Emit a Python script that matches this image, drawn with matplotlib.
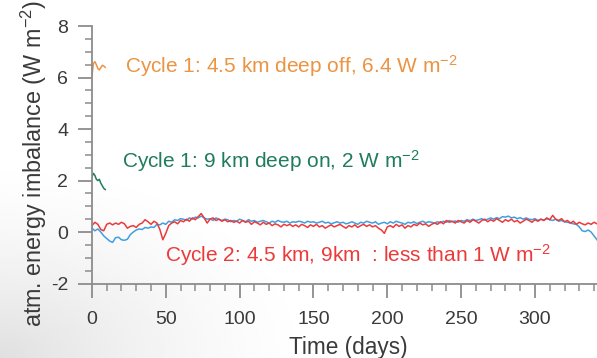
import matplotlib
matplotlib.use("Agg")
import matplotlib.pyplot as plt
import numpy as np
from matplotlib.ticker import MultipleLocator

plt.rcParams["font.family"] = ["Liberation Sans", "DejaVu Sans"]
plt.rcParams["mathtext.default"] = "regular"
plt.rcParams["axes.unicode_minus"] = False

COLORS = {
    "blue": "#3f9fe2",
    "red": "#ec3a3a",
    "orange": "#eb9443",
    "green": "#1f7d5c",
    "axis": "#8c8c8c",
    "text": "#3a3a3a",
}

# cycle 1 runs, first few days only
days_c1 = [0, 1, 2, 3, 4, 5, 6, 7, 8, 9]
deep_off_45km = [6.05, 6.55, 6.62, 6.5, 6.35, 6.3, 6.38, 6.48, 6.45, 6.4]
deep_on_9km = [2.15, 2.28, 2.2, 2.05, 2.0, 2.05, 1.9, 1.8, 1.7, 1.65]

# cycle 2 runs, every 2 days
days_c2 = np.arange(0, 344, 2)
cycle2_blue = [
    0.15, 0.05, 0.12, 0.0, -0.15, -0.25, -0.35, -0.4, -0.22, -0.2,
    -0.3, -0.32, -0.28, -0.1, 0.0, 0.08, 0.12, 0.1, 0.18, 0.15,
    0.2, 0.18, 0.3, 0.28, 0.35, 0.3, 0.42, 0.38, 0.48, 0.45,
    0.52, 0.5, 0.45, 0.55, 0.5, 0.58, 0.55, 0.62, 0.55, 0.5,
    0.52, 0.45, 0.55, 0.5, 0.45, 0.5, 0.48, 0.4, 0.45, 0.42,
    0.5, 0.45, 0.4, 0.48, 0.42, 0.45, 0.38, 0.42, 0.45, 0.4,
    0.35, 0.42, 0.38, 0.45, 0.4, 0.38, 0.42, 0.35, 0.4, 0.38,
    0.42, 0.4, 0.35, 0.42, 0.38, 0.4, 0.35, 0.38, 0.42, 0.35,
    0.38, 0.32, 0.36, 0.4, 0.35, 0.38, 0.32, 0.35, 0.4, 0.35,
    0.3, 0.38, 0.35, 0.42, 0.38, 0.35, 0.4, 0.3, 0.35, 0.38,
    0.32, 0.4, 0.35, 0.42, 0.38, 0.35, 0.3, 0.38, 0.35, 0.4,
    0.33, 0.38, 0.42, 0.36, 0.4, 0.38, 0.35, 0.4, 0.36, 0.42,
    0.38, 0.45, 0.4, 0.43, 0.38, 0.45, 0.42, 0.48, 0.44, 0.5,
    0.45, 0.48, 0.52, 0.46, 0.5, 0.55, 0.5, 0.56, 0.52, 0.6,
    0.58, 0.62, 0.55, 0.58, 0.52, 0.56, 0.5, 0.55, 0.5, 0.48,
    0.52, 0.45, 0.5, 0.46, 0.52, 0.48, 0.45, 0.5, 0.42, 0.45,
    0.4, 0.38, 0.35, 0.32, 0.3, 0.2, 0.05, 0.02, 0.08, 0.0,
    -0.15, -0.3,
]
cycle2_red = [
    0.25, 0.38, 0.3, 0.1, 0.05, 0.3, 0.35, 0.28, 0.35, 0.3,
    0.38, 0.32, 0.15, 0.22, 0.25, 0.18, 0.3, 0.35, 0.48, 0.4,
    0.3, 0.42, 0.35, 0.1, -0.3, -0.05, 0.25, 0.35, 0.4, 0.32,
    0.45, 0.4, 0.5, 0.42, 0.55, 0.48, 0.6, 0.72, 0.55, 0.35,
    0.5, 0.55, 0.45, 0.5, 0.42, 0.48, 0.4, 0.45, 0.38, 0.42,
    0.35, 0.45, 0.38, 0.42, 0.3, 0.4, 0.35, 0.28, 0.38, 0.3,
    0.35, 0.25, 0.32, 0.28, 0.2, 0.3, 0.25, 0.3, 0.22, 0.28,
    0.2, 0.3, 0.25, 0.18, 0.28, 0.22, 0.3, 0.2, 0.25, 0.15,
    0.22, 0.28, 0.2, 0.25, 0.3, 0.22, 0.15, 0.25, 0.2, 0.28,
    0.18, 0.25, 0.3, 0.22, 0.28, 0.2, 0.25, 0.15, 0.08, -0.05,
    0.2, 0.25, 0.18, 0.3, 0.22, 0.28, 0.15, 0.25, 0.2, 0.3,
    0.25, 0.35, 0.28, 0.32, 0.22, 0.3, 0.35, 0.3, 0.4, 0.32,
    0.45, 0.38, 0.42, 0.35, 0.45, 0.4, 0.35, 0.45, 0.38, 0.48,
    0.42, 0.35, 0.45, 0.5, 0.4, 0.48, 0.42, 0.52, 0.45, 0.38,
    0.48, 0.42, 0.5, 0.4, 0.45, 0.35, 0.42, 0.5, 0.45, 0.38,
    0.48, 0.42, 0.5, 0.45, 0.55, 0.48, 0.65, 0.5, 0.45, 0.52,
    0.4, 0.45, 0.35, 0.42, 0.3, 0.38, 0.32, 0.28, 0.35, 0.3,
    0.38, 0.32,
]

fig = plt.figure(figsize=(5.97, 3.58), dpi=100)

# faint grey shading in the lower-left corner of the slide
bg = fig.add_axes([0, 0, 1, 1], zorder=-1)
px, py = np.meshgrid(np.linspace(0, 597, 200), np.linspace(0, 358, 120))
dist = np.hypot(px, py * 1.6)
shade = np.clip(1 - dist / 330, 0, 1) ** 1.5
bg.imshow(1 - 0.12 * shade, cmap="gray", vmin=0, vmax=1, aspect="auto",
          extent=(0, 1, 0, 1), origin="lower")
bg.axis("off")

ax = fig.add_axes([0.154, 0.208, 0.846, 0.719])
ax.patch.set_alpha(0)

ax.plot(days_c2, cycle2_blue, color=COLORS["blue"], linewidth=1.1)
ax.plot(days_c2, cycle2_red, color=COLORS["red"], linewidth=1.1)
ax.plot(days_c1, deep_off_45km, color=COLORS["orange"], linewidth=1.1)
ax.plot(days_c1, deep_on_9km, color=COLORS["green"], linewidth=1.1)

ax.set_xlim(0, 342)
ax.set_ylim(-2, 8)
ax.xaxis.set_major_locator(MultipleLocator(50))
ax.xaxis.set_minor_locator(MultipleLocator(10))
ax.yaxis.set_major_locator(MultipleLocator(2))
ax.yaxis.set_minor_locator(MultipleLocator(0.5))

for side in ("top", "right"):
    ax.spines[side].set_visible(False)
for side in ("left", "bottom"):
    ax.spines[side].set_color(COLORS["axis"])
    ax.spines[side].set_linewidth(1.3)
ax.tick_params(which="major", length=10, width=1.3, color=COLORS["axis"],
               labelsize=14, labelcolor=COLORS["text"])
ax.tick_params(axis="x", which="major", pad=10)
ax.tick_params(axis="y", which="major", pad=7)
ax.tick_params(which="minor", length=5, width=1.1, color=COLORS["axis"])

ax.set_xlabel("Time (days)", fontsize=16.3, color=COLORS["text"])
ax.xaxis.set_label_coords(0.508, -0.205)
ax.set_ylabel("atm. energy imbalance (W m$^{-2}$)", fontsize=16.8,
              color=COLORS["text"])
ax.yaxis.set_label_coords(-0.085, 0.465)

ax.text(22.5, 6.45, "Cycle 1: 4.5 km deep off, 6.4 W m$^{-2}$",
        color=COLORS["orange"], fontsize=15, va="center")
ax.text(20.5, 2.75, "Cycle 1: 9 km deep on, 2 W m$^{-2}$",
        color=COLORS["green"], fontsize=15, va="center")
ax.text(49.5, -0.9, "Cycle 2: 4.5 km, 9km  : less than 1 W m$^{-2}$",
        color=COLORS["red"], fontsize=15, va="center")

fig.savefig("out.png", dpi=100)
